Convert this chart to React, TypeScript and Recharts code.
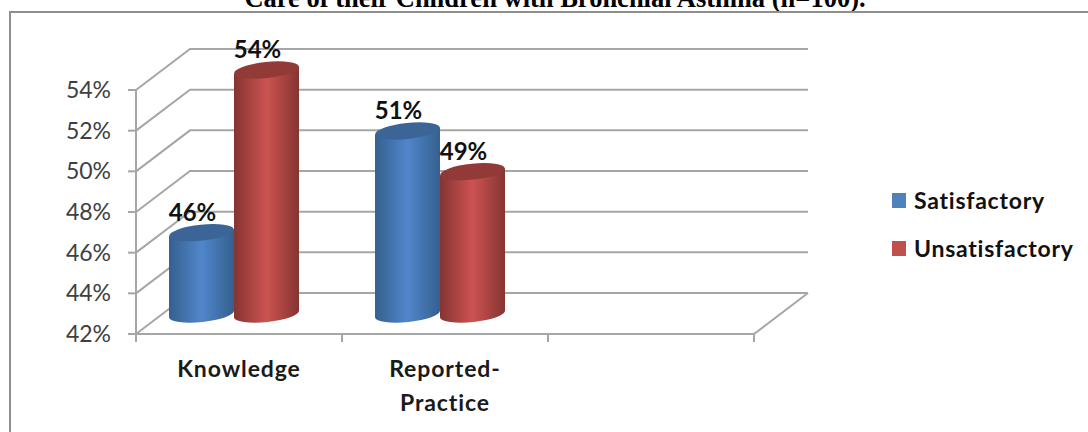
import React from "react";
import { BarChart, Bar, XAxis, YAxis, CartesianGrid, Legend, LabelList } from "recharts";

const categories = ["Knowledge", "Reported-Practice", ""];
const satisfactory = [46, 51, null];
const unsatisfactory = [54, 49, null];
const yTicks = [42, 44, 46, 48, 50, 52, 54];
const seriesNames = ["Satisfactory", "Unsatisfactory"];
const seriesColors = ["#4f81bd", "#c0504d"];
const titleText = "Care of their Children with Bronchial Asthma (n=100).";

const rows = categories.map((category, i) => ({
  category,
  satisfactory: satisfactory[i],
  unsatisfactory: unsatisfactory[i],
}));

// Depth of the pseudo-3D box and where the cylinders sit inside it.
const DEPTH_X = 54;
const DEPTH_Y = 41;
const BAR_DX = -5;
const BAR_DY = -20;
const GRID = "#a6a6a6";
const FONT = "Lato, Carlito, sans-serif";

function Cylinder(props: any) {
  const { x, y, width, height, gradient, cap } = props;
  if (!width || height == null) return null;
  const left = x + BAR_DX;
  const right = left + width;
  const top = y + BAR_DY;
  const base = top + height;
  const rx = width / 2;
  const ry = 8;
  const tilt = -6;
  const lean = 3.5;
  const body = `M${left},${top + lean} L${left},${base + lean} A${rx},${ry} ${tilt} 0 0 ${right},${base - lean} L${right},${top - lean} Z`;
  return (
    <g>
      <path d={body} fill={`url(#${gradient})`} />
      <ellipse
        cx={left + rx}
        cy={top}
        rx={rx}
        ry={ry}
        fill={cap}
        transform={`rotate(${tilt} ${left + rx} ${top})`}
      />
    </g>
  );
}

// Each horizontal line runs up the side wall and then along the back wall.
function WallLine(props: any) {
  const { x1, x2, y1, index } = props;
  const isFloor = y1 === Math.max(props.y1, props.y2) && index === 0;
  const backY = y1 - DEPTH_Y;
  return (
    <g>
      <polyline
        points={`${x1},${y1} ${x1 + DEPTH_X},${backY} ${x2 + DEPTH_X},${backY}`}
        fill="none"
        stroke={GRID}
        strokeWidth={2}
      />
      {isFloor ? (
        <line x1={x2} y1={y1} x2={x2 + DEPTH_X} y2={backY} stroke={GRID} strokeWidth={2} />
      ) : null}
    </g>
  );
}

function CategoryTick(props: any) {
  const { x, y, payload, index, visibleTicksCount } = props;
  const half = payload.offset ?? 103;
  const lines = String(payload.value).split(/(?<=-)/);
  const isLast = index === (visibleTicksCount ?? categories.length) - 1;
  return (
    <g>
      <line x1={x - half} x2={x - half} y1={334} y2={342} stroke={GRID} strokeWidth={2} />
      {isLast ? (
        <line x1={x + half} x2={x + half} y1={334} y2={342} stroke={GRID} strokeWidth={2} />
      ) : null}
      <text
        x={x}
        textAnchor="middle"
        fontFamily={FONT}
        fontWeight={700}
        fontSize={23}
        letterSpacing={0.9}
        fill="#1a1a1a"
      >
        {lines.map((line: string, i: number) => (
          <tspan key={i} x={x} y={377 + i * 34}>
            {line}
          </tspan>
        ))}
      </text>
    </g>
  );
}

function ValueLabel(props: any) {
  const { x, y, width, value } = props;
  if (value == null) return null;
  return (
    <text
      x={x + width / 2 + BAR_DX - 9}
      y={y - 32}
      textAnchor="middle"
      fontFamily={FONT}
      fontWeight={700}
      fontSize={24}
      fill="#111"
    >
      {`${value}%`}
    </text>
  );
}

function LegendBox() {
  return (
    <div style={{ fontFamily: FONT, fontWeight: 700, fontSize: 23, letterSpacing: 0.75, color: "#111" }}>
      {seriesNames.map((name, i) => (
        <div key={name} style={{ display: "flex", alignItems: "center", height: 48 }}>
          <span style={{ width: 14, height: 15, background: seriesColors[i], marginRight: 8 }} />
          {name}
        </div>
      ))}
    </div>
  );
}

export default function App() {
  return (
    <div style={{ position: "absolute", left: 0, top: 0, width: 1088, height: 432, overflow: "hidden", background: "#fff" }}>
      <div
        style={{
          position: "absolute",
          left: 0,
          width: 1110,
          top: -17,
          textAlign: "center",
          fontFamily: "'Liberation Serif', serif",
          fontWeight: 700,
          fontSize: 26.5,
          color: "#000",
          whiteSpace: "nowrap",
        }}
      >
        {titleText}
      </div>
      <div
        style={{
          position: "absolute",
          left: 9,
          top: 11,
          width: 1100,
          height: 440,
          border: "2px solid #8f8f8f",
          boxSizing: "border-box",
        }}
      />
      <BarChart
        width={1088}
        height={432}
        data={rows}
        margin={{ top: 90, right: 334, bottom: 48, left: 0 }}
        barCategoryGap={38}
        barGap={0}
        style={{ position: "absolute", left: 0, top: 0 }}
      >
        <defs>
          <linearGradient id="blueBody" x1="0" x2="1" y1="0" y2="0">
            <stop offset="0" stopColor="#35608f" />
            <stop offset="0.5" stopColor="#5086cb" />
            <stop offset="1" stopColor="#35608f" />
          </linearGradient>
          <linearGradient id="redBody" x1="0" x2="1" y1="0" y2="0">
            <stop offset="0" stopColor="#853432" />
            <stop offset="0.5" stopColor="#cc5351" />
            <stop offset="1" stopColor="#853432" />
          </linearGradient>
        </defs>
        <CartesianGrid vertical={false} horizontal={WallLine} />
        <XAxis
          dataKey="category"
          height={50}
          interval={0}
          tickLine={false}
          axisLine={{ stroke: GRID, strokeWidth: 2 }}
          tick={CategoryTick}
        />
        <YAxis
          width={136}
          domain={[42, 54]}
          ticks={yTicks}
          interval={0}
          tickFormatter={(v: number) => `${v}%`}
          tickSize={8}
          tickMargin={17}
          tick={{ fontFamily: FONT, fontSize: 23, fill: "#404040" }}
          tickLine={{ stroke: GRID, strokeWidth: 2 }}
          axisLine={{ stroke: GRID, strokeWidth: 2 }}
        />
        <Legend
          layout="vertical"
          align="center"
          verticalAlign="middle"
          content={<LegendBox />}
          wrapperStyle={{ position: "absolute", left: 892, top: 176, width: 190 }}
        />
        <Bar
          dataKey="satisfactory"
          name={seriesNames[0]}
          fill={seriesColors[0]}
          isAnimationActive={false}
          shape={(p: any) => <Cylinder {...p} gradient="blueBody" cap="#3b6596" />}
        >
          <LabelList dataKey="satisfactory" content={ValueLabel} />
        </Bar>
        <Bar
          dataKey="unsatisfactory"
          name={seriesNames[1]}
          fill={seriesColors[1]}
          isAnimationActive={false}
          shape={(p: any) => <Cylinder {...p} gradient="redBody" cap="#923a38" />}
        >
          <LabelList dataKey="unsatisfactory" content={ValueLabel} />
        </Bar>
      </BarChart>
    </div>
  );
}
